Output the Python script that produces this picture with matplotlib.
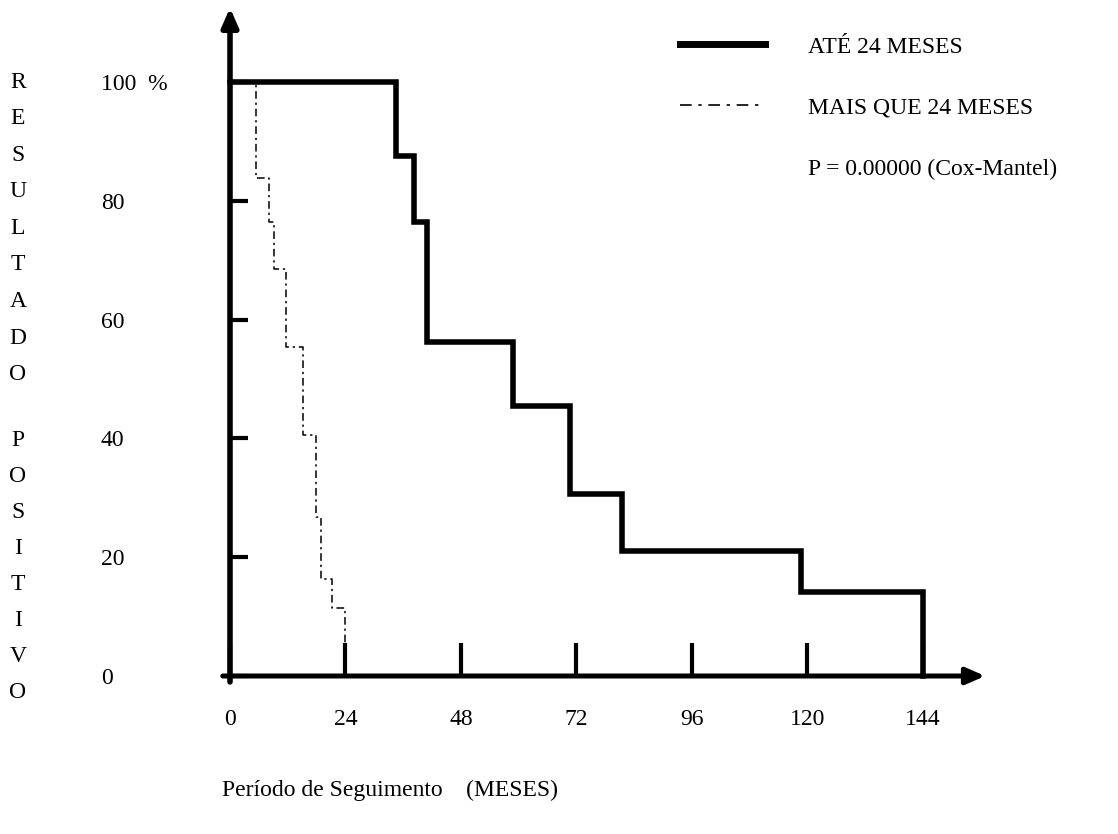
import numpy as np
import matplotlib
matplotlib.use("Agg")
import matplotlib.pyplot as plt
from matplotlib.lines import Line2D

# curve data (months, % positive result after the drop)
ate24_months = [34.6, 38.3, 40.9, 58.8, 70.7, 81.6, 118.7, 144.1]
ate24_pct = [87.5, 76.5, 56.3, 45.5, 30.6, 21.0, 14.2, 0.0]
mais24_months = [5.5, 8.2, 9.2, 11.6, 15.2, 17.9, 18.9, 21.3, 23.9]
mais24_pct = [83.8, 76.5, 68.5, 55.4, 40.6, 26.8, 16.3, 11.4, 0.0]

xticks = [0, 24, 48, 72, 96, 120, 144]
yticks = [0, 20, 40, 60, 80, 100]
ytick_labels = ["0", "20", "40", "60", "80", "100  %"]
ylabel_words = ["RESULTADO", "POSITIVO"]

W, H = 1118, 834
plt.rcParams['font.family'] = ['Liberation Serif', 'DejaVu Serif']
fs = 17

# pixel layout of the scan
x0_px, y0_px = 230, 676          # data origin
px_month, px_pct = 4.81, 5.94
xlo, xhi, ylo, yhi = -3, 160, -3, 113

fig = plt.figure(figsize=(W / 100, H / 100), dpi=100)
left = x0_px + xlo * px_month
right = x0_px + xhi * px_month
bottom = y0_px - ylo * px_pct
top = y0_px - yhi * px_pct
ax = fig.add_axes([left / W, 1 - bottom / H, (right - left) / W, (bottom - top) / H])
ax.set_xlim(xlo, xhi)
ax.set_ylim(ylo, yhi)

for s in ax.spines.values():
    s.set_visible(False)
ax.spines['left'].set_position(('data', 0))
ax.spines['bottom'].set_position(('data', 0))

# axes drawn as arrows
arrow = dict(arrowstyle='-|>,head_length=0.8,head_width=0.35', lw=4, color='black',
             mutation_scale=14, shrinkA=0, shrinkB=0)
ax.annotate('', xy=(0, 112.5), xytext=(0, -1), arrowprops=arrow, annotation_clip=False)
ax.annotate('', xy=(157, 0), xytext=(-1.5, 0), arrowprops=dict(arrow, lw=3.6),
            annotation_clip=False)

t1 = [0] + ate24_months
s1 = [100] + ate24_pct
t2 = [0] + mais24_months
s2 = [100] + mais24_pct
ax.plot(t2, s2, drawstyle='steps-post', color='black', lw=1.1,
        linestyle=(0, (5, 2.5, 1.5, 2.5)), clip_on=False, label='MAIS QUE 24 MESES')
ax.plot(t1, s1, drawstyle='steps-post', color='black', lw=4, clip_on=False,
        solid_joinstyle='miter', label='ATÉ 24 MESES')

ax.set_xticks(xticks)
ax.set_xticklabels([str(v) for v in xticks], fontsize=fs)
ax.set_yticks(yticks)
ax.set_yticklabels(ytick_labels, fontsize=fs, ha='left')
ax.tick_params(axis='x', direction='in', length=24, width=3, pad=24)
ax.tick_params(axis='y', direction='in', length=13, width=3, pad=93)

ax.set_xlabel('Período de Seguimento    (MESES)', fontsize=fs, loc='left', va='center')
ax.xaxis.set_label_coords((222 - left) / (right - left), (bottom - 790) / (bottom - top))

# legend, with the test result as a third row
h_solid = Line2D([], [], color='black', lw=5)
h_dash = Line2D([], [], color='black', lw=1.2, linestyle=(0, (7, 4, 2, 4)))
h_none = Line2D([], [], color='none')
ax.legend([h_solid, h_dash, h_none],
          ['ATÉ 24 MESES', 'MAIS QUE 24 MESES', 'P = 0.00000 (Cox-Mantel)'],
          loc='upper left', bbox_to_anchor=(680 / W, 1 - 36 / H),
          bbox_transform=fig.transFigure, frameon=False, fontsize=fs,
          handlelength=3.6, handletextpad=1.8, labelspacing=1.68,
          borderpad=0, borderaxespad=0)

# stacked vertical y label
for word, y_start, step in zip(ylabel_words, [82, 440], [36.6, 36.1]):
    for i, ch in enumerate(word):
        fig.text(18 / W, 1 - (y_start + i * step) / H, ch, fontsize=fs,
                 ha='center', va='center')

fig.savefig('out.png', dpi=100)
